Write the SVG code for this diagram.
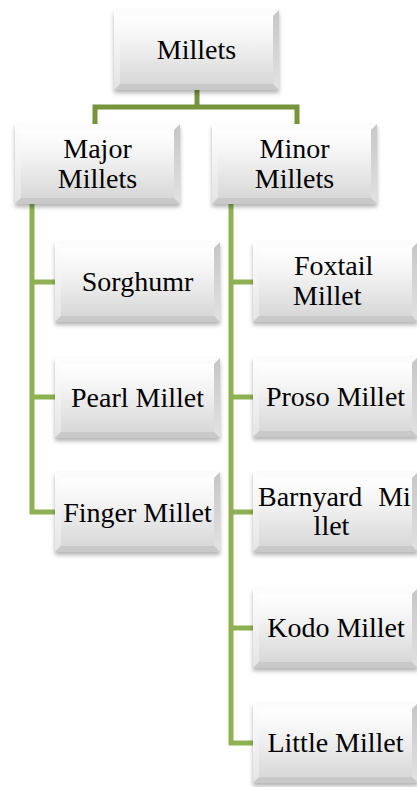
<svg xmlns="http://www.w3.org/2000/svg" xmlns:xlink="http://www.w3.org/1999/xlink" width="417" height="787" viewBox="0 0 417 787">
<style>
.lbl{font-family:"Liberation Serif","Times New Roman",serif;font-size:28px;fill:#000;text-anchor:middle}
.st{text-anchor:start}
.top{fill:none;stroke:#77933c;stroke-width:5}
.lnk{fill:none;stroke:#8db153;stroke-width:5}
</style>
<defs>
<linearGradient id="gOuter" x1="0" y1="0" x2="0" y2="1">
<stop offset="0" stop-color="#ffffff"/><stop offset="1" stop-color="#d2d2d2"/>
</linearGradient>
<linearGradient id="gFace" x1="0" y1="0" x2="0" y2="1">
<stop offset="0" stop-color="#ffffff"/><stop offset="0.35" stop-color="#f4f4f4"/><stop offset="1" stop-color="#d8d8d8"/>
</linearGradient>
<linearGradient id="gRight" x1="0" y1="0" x2="0" y2="1">
<stop offset="0" stop-color="#c6c6c6"/><stop offset="1" stop-color="#e2e2e2"/>
</linearGradient>
<linearGradient id="gLeft" x1="0" y1="0" x2="0" y2="1">
<stop offset="0" stop-color="#ffffff"/><stop offset="1" stop-color="#e4e4e4"/>
</linearGradient>
<filter id="sh" x="-10%" y="-10%" width="120%" height="130%">
<feDropShadow dx="0" dy="3" stdDeviation="2" flood-color="#000" flood-opacity="0.3"/>
</filter>
<symbol id="box" viewBox="0 0 165 80" overflow="visible">
<rect x="0" y="0" width="165" height="80" fill="url(#gOuter)"/>
<polygon points="0,0 165,0 159,6 6,6" fill="#fcfcfc"/>
<polygon points="0,0 6,6 6,74 0,80" fill="url(#gLeft)"/>
<polygon points="165,0 165,80 159,74 159,6" fill="url(#gRight)"/>
<polygon points="0,80 6,74 159,74 165,80" fill="#c9c9c9"/>
<rect x="6" y="6" width="153" height="68" fill="url(#gFace)"/>
</symbol>
</defs>
<rect width="417" height="787" fill="#ffffff"/>
<g id="connectors">
<path class="top" d="M197,90 V107 M95,124 V107 H297 V124"/>
<path class="lnk" d="M32,204 V512 H57 M32,282 H57 M32,397 H57"/>
<path class="lnk" d="M231,204 V743 H255 M231,282 H255 M231,397 H255 M231,512 H255 M231,628 H255"/>
</g>
<g id="n-millets"><use xlink:href="#box" x="114" y="10" width="165" height="80" filter="url(#sh)"/><text class="lbl" x="196.5" y="59">Millets</text></g>
<g id="n-major"><use xlink:href="#box" x="15" y="124" width="165" height="80" filter="url(#sh)"/><text class="lbl" x="97.5" y="158">Major</text><text class="lbl" x="97.5" y="188">Millets</text></g>
<g id="n-minor"><use xlink:href="#box" x="212" y="124" width="165" height="80" filter="url(#sh)"/><text class="lbl" x="294.5" y="158">Minor</text><text class="lbl" x="294.5" y="188">Millets</text></g>
<g id="n-sorghum"><use xlink:href="#box" x="55" y="242" width="165" height="80" filter="url(#sh)"/><text class="lbl" x="137.5" y="291">Sorghumr</text></g>
<g id="n-pearl"><use xlink:href="#box" x="55" y="358" width="165" height="80" filter="url(#sh)"/><text class="lbl" x="137.5" y="407">Pearl Millet</text></g>
<g id="n-finger"><use xlink:href="#box" x="55" y="472" width="165" height="80" filter="url(#sh)"/><text class="lbl" x="137.5" y="522">Finger Millet</text></g>
<g id="n-foxtail"><use xlink:href="#box" x="253" y="242" width="165" height="80" filter="url(#sh)"/><text class="lbl st" x="294" y="275">Foxtail</text><text class="lbl st" x="293" y="305">Millet</text></g>
<g id="n-proso"><use xlink:href="#box" x="253" y="357" width="165" height="80" filter="url(#sh)"/><text class="lbl" x="335.5" y="406">Proso Millet</text></g>
<g id="n-barnyard"><use xlink:href="#box" x="253" y="472" width="165" height="80" filter="url(#sh)"/><text class="lbl st" x="258" y="506" word-spacing="9">Barnyard Mi</text><text class="lbl" x="331.5" y="535">llet</text></g>
<g id="n-kodo"><use xlink:href="#box" x="253" y="588" width="165" height="80" filter="url(#sh)"/><text class="lbl" x="336" y="637">Kodo Millet</text></g>
<g id="n-little"><use xlink:href="#box" x="253" y="703" width="165" height="80" filter="url(#sh)"/><text class="lbl" x="335.5" y="752">Little Millet</text></g>
</svg>
